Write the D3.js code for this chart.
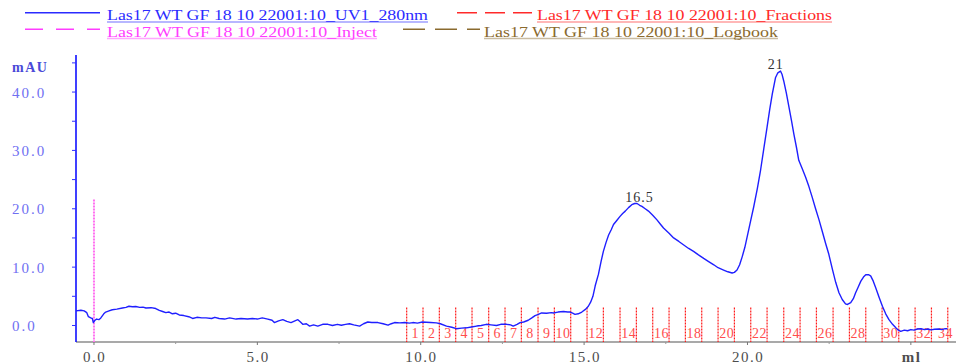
<!DOCTYPE html>
<html>
<head>
<meta charset="utf-8">
<script src="https://cdn.jsdelivr.net/npm/d3@7"></script>
<style>
  html, body { margin: 0; padding: 0; background: #fff; }
  svg { display: block; }
  text { font-family: "Liberation Serif", "DejaVu Serif", serif; }
</style>
</head>
<body>
<svg id="chart" width="959" height="364"></svg>
<script>
// ---- data ----
const uvVolume = [-0.55,-0.40,-0.30,-0.22,-0.17,-0.10,-0.05,-0.02,0.03,0.08,0.15,0.21,0.30,0.36,0.46,0.56,0.70,0.87,0.98,1.07,1.18,1.28,1.40,1.50,1.59,1.75,1.89,2.0,2.1,2.2,2.3,2.4,2.5,2.61,2.75,2.9,3.02,3.15,3.3,3.43,3.6,3.7,3.83,4.0,4.15,4.35,4.5,4.7,4.85,5.0,5.15,5.32,5.45,5.52,5.65,5.78,5.9,6.03,6.15,6.24,6.32,6.39,6.5,6.6,6.72,6.85,7.0,7.16,7.3,7.45,7.57,7.7,7.82,7.95,8.13,8.25,8.38,8.5,8.69,8.85,9.0,9.1,9.2,9.36,9.51,9.65,9.76,9.9,10.05,10.17,10.3,10.48,10.6,10.79,10.95,11.09,11.25,11.40,11.55,11.71,11.85,12.01,12.15,12.32,12.45,12.63,12.75,12.83,12.95,13.04,13.15,13.29,13.4,13.50,13.6,13.70,13.85,14.0,14.06,14.2,14.37,14.5,14.57,14.65,14.72,14.82,14.93,15.05,15.13,15.2,15.27,15.34,15.44,15.52,15.59,15.67,15.75,15.83,15.90,16.0,16.10,16.18,16.26,16.36,16.46,16.55,16.62,16.70,16.77,16.87,16.97,17.1,17.23,17.33,17.43,17.6,17.74,17.9,18.05,18.2,18.35,18.5,18.66,18.8,18.97,19.1,19.27,19.4,19.53,19.6,19.68,19.76,19.84,19.92,19.99,20.1,20.19,20.30,20.40,20.50,20.60,20.68,20.76,20.86,20.93,21.01,21.06,21.11,21.19,21.27,21.35,21.42,21.5,21.57,21.68,21.78,21.88,21.98,22.08,22.19,22.29,22.39,22.49,22.60,22.70,22.80,22.90,23.0,23.06,23.16,23.24,23.31,23.39,23.47,23.55,23.62,23.70,23.77,23.85,23.93,24.03,24.13,24.23,24.33,24.44,24.54,24.62,24.69,24.8,24.9,25.0,25.1,25.2,25.31,25.42,25.52,25.62,25.72,25.85,25.95,26.05,26.12];
const uvMAU = [2.5,2.6,2.5,2.2,1.5,1.3,1.2,0.5,0.9,1.1,1.0,1.3,2.0,2.3,2.5,2.7,2.8,3.0,3.1,3.3,3.2,3.25,3.1,3.15,3.0,3.05,2.9,2.6,2.4,2.2,2.3,2.0,2.1,1.8,1.7,1.5,1.2,1.4,1.3,1.3,1.2,1.4,1.2,1.1,1.3,1.1,1.2,1.1,1.2,1.1,1.3,1.1,0.9,0.5,0.8,1.0,0.7,0.5,0.8,1.0,0.6,0.2,0.3,-0.1,0.1,-0.1,0.2,0.2,0.0,0.2,0.05,0.2,0.3,0.1,-0.1,0.3,0.6,0.5,0.5,0.3,0.05,0.3,0.5,0.45,0.5,0.4,0.5,0.4,0.6,0.55,0.5,0.45,0.3,-0.1,-0.3,-0.55,-0.45,-0.4,-0.25,-0.1,0.0,0.2,0.1,0.0,0.2,0.2,0.1,-0.1,0.2,0.5,0.6,0.9,1.3,1.7,1.9,2.15,2.1,2.2,2.15,2.3,2.4,2.3,2.3,2.1,1.9,2.0,2.3,2.8,3.3,4.0,5.0,6.8,8.8,11.0,12.7,14.2,15.5,16.4,17.3,18.0,18.7,19.2,19.6,20.2,20.7,20.9,20.9,20.6,20.4,20.0,19.6,18.9,18.1,17.4,16.7,15.8,15.0,14.4,13.8,13.2,12.7,12.1,11.5,11.0,10.4,9.9,9.5,9.2,9.0,9.1,9.5,10.4,11.8,13.4,15.2,18.0,20.3,23.4,26.6,30.3,34.0,37.0,39.7,42.5,43.3,43.6,43.0,41.9,39.8,37.4,35.0,32.8,30.5,28.3,26.8,25.4,23.8,22.0,20.1,18.1,16.1,14.1,12.2,9.6,7.4,5.6,4.45,3.7,3.6,3.9,4.6,5.6,6.6,7.6,8.3,8.7,8.7,8.5,7.6,6.4,4.8,3.3,2.0,1.0,0.2,-0.4,-0.8,-1.0,-0.8,-0.9,-0.7,-0.8,-0.6,-0.55,-0.7,-0.6,-0.75,-0.65,-0.6,-0.7,-0.55,-0.55];

const fractionStarts = [9.57,10.07,10.57,11.07,11.57,12.08,12.58,13.08,13.59,14.09,14.59,15.09,15.59,16.1,16.6,17.1,17.6,18.1,18.6,19.1,19.6,20.1,20.6,21.11,21.61,22.11,22.62,23.12,23.62,24.12,24.63,25.13,25.63,26.13];
const fractionLabels = ["1","2","3","4","5","6","7","8","9","10","","12","","14","","16","","18","","20","","22","","24","","26","","28","","30","","32","","34"];
const fractionMarkTop = 3.1;   // mAU height of fraction marks

const injectVolume = 0.0;
const injectTop = 21.6;        // mAU height of inject mark

const peakLabels = ["16.5", "21"];
const peakLabelVolume = [16.68, 20.85];
const peakLabelMAU = [20.95, 43.8];

const xTickValues = [0, 5, 10, 15, 20, 25];
const xTickLabels = ["0.0", "5.0", "10.0", "15.0", "20.0", "ml"];
const xMinorTicks = [2.5, 7.5, 12.5, 17.5, 22.5];
const yTickValues = [0, 10, 20, 30, 40];
const yTickLabels = ["0.0", "10.0", "20.0", "30.0", "40.0"];
const yMinorTicks = [5, 15, 25, 35, 45];

const legendNames = ["Las17 WT GF 18 10 22001:10_UV1_280nm", "Las17 WT GF 18 10 22001:10_Fractions",
                     "Las17 WT GF 18 10 22001:10_Inject", "Las17 WT GF 18 10 22001:10_Logbook"];
const legendColors = ["#2b2bff", "#ff2a2a", "#ff3cff", "#8a6a2e"];

// ---- layout ----
const svg = d3.select("#chart");
svg.append("rect").attr("width", 959).attr("height", 364).attr("fill", "#fff");

const plotLeft = 76, plotRight = 953, plotTop = 55, plotBottom = 342;
const x = d3.scaleLinear().domain([-0.55, 26.29]).range([plotLeft, plotRight]);
const y = d3.scaleLinear().domain([-2.83, 46.35]).range([plotBottom, plotTop]);

// legend
const legendLayout = [
  {lx1: 25, lx2: 100, ly: 12.7, tx: 107, ty: 20, tw: 321, dash: null},
  {lx1: 457, lx2: 532, ly: 12.7, tx: 537, ty: 20, tw: 295, dash: "20,8"},
  {lx1: 25, lx2: 100, ly: 29.3, tx: 107, ty: 36.5, tw: 270, dash: "18,13"},
  {lx1: 403, lx2: 480, ly: 29.3, tx: 484, ty: 36.5, tw: 294, dash: "22,10"}
];
const lg = svg.append("g");
legendNames.forEach((name, i) => {
  const L = legendLayout[i];
  lg.append("line").attr("x1", L.lx1).attr("x2", L.lx2).attr("y1", L.ly).attr("y2", L.ly)
    .attr("stroke", legendColors[i]).attr("stroke-width", 1.6)
    .attr("stroke-dasharray", L.dash);
  lg.append("line").attr("x1", L.tx).attr("x2", L.tx + L.tw).attr("y1", L.ty + 2).attr("y2", L.ty + 2)
    .attr("stroke", legendColors[i]).attr("stroke-opacity", 0.45).attr("stroke-width", 1.6);
  lg.append("text").attr("x", L.tx).attr("y", L.ty)
    .attr("textLength", L.tw).attr("lengthAdjust", "spacingAndGlyphs")
    .attr("font-size", 14).attr("fill", legendColors[i]).text(name);
});

// x axis
svg.append("line").attr("x1", plotLeft).attr("x2", 956).attr("y1", plotBottom).attr("y2", plotBottom)
  .attr("stroke", "#8c8c8c").attr("stroke-width", 1.3);
const xAxisG = svg.append("g");
xAxisG.selectAll("line.maj").data(xTickValues).join("line")
  .attr("x1", d => x(d)).attr("x2", d => x(d)).attr("y1", plotBottom).attr("y2", plotBottom + 3)
  .attr("stroke", "#777");
xAxisG.selectAll("line.min").data(xMinorTicks).join("line")
  .attr("x1", d => x(d)).attr("x2", d => x(d)).attr("y1", plotBottom).attr("y2", plotBottom + 2)
  .attr("stroke", "#999");
xAxisG.selectAll("text").data(xTickValues).join("text")
  .attr("x", d => x(d) + 0.75).attr("y", 361.5).attr("text-anchor", "middle")
  .attr("font-size", 15).attr("letter-spacing", 1.5).attr("fill", "#4d4d4d")
  .attr("font-weight", (d, i) => xTickLabels[i] === "ml" ? "bold" : null)
  .text((d, i) => xTickLabels[i]);

// fraction marks
const fg = svg.append("g");
fg.selectAll("line").data(fractionStarts).join("line")
  .attr("x1", d => x(d)).attr("x2", d => x(d)).attr("y1", y(fractionMarkTop)).attr("y2", plotBottom)
  .attr("stroke", "#ff1a1a").attr("stroke-width", 1.2).attr("stroke-dasharray", "2,1");
fg.selectAll("text").data(fractionStarts).join("text")
  .attr("x", (d, i) => Math.min((x(d) + x(d + 0.5)) / 2, 945) + 0.5)
  .attr("y", 338).attr("text-anchor", "middle")
  .attr("font-size", 14).attr("letter-spacing", 0.5).attr("fill", "#ff4d4d")
  .text((d, i) => fractionLabels[i]);

// inject mark
svg.append("line").attr("x1", x(injectVolume)).attr("x2", x(injectVolume))
  .attr("y1", y(injectTop)).attr("y2", plotBottom)
  .attr("stroke", "#ff70f0").attr("stroke-width", 2).attr("stroke-dasharray", "2,1");

// y axis
svg.append("line").attr("x1", plotLeft).attr("x2", plotLeft).attr("y1", plotTop).attr("y2", plotBottom)
  .attr("stroke", "#1010ff").attr("stroke-width", 1.6);
const yAxisG = svg.append("g");
yAxisG.selectAll("line.maj").data(yTickValues.concat(yMinorTicks)).join("line")
  .attr("x1", plotLeft - 4).attr("x2", plotLeft).attr("y1", d => y(d)).attr("y2", d => y(d))
  .attr("stroke", "#3030ff").attr("stroke-width", 1);
yAxisG.selectAll("text").data(yTickValues).join("text")
  .attr("x", 12).attr("y", d => y(d) + 5.5)
  .attr("font-size", 15).attr("letter-spacing", 2).attr("fill", "#6f6ff2")
  .text((d, i) => yTickLabels[i]);
svg.append("text").attr("x", 12).attr("y", 72).attr("font-size", 14).attr("font-weight", "bold")
  .attr("letter-spacing", 1.5).attr("fill", "#4a4ad8").text("mAU");

// UV curve
const pts = uvVolume.map((v, i) => [v, uvMAU[i]]);
const line = d3.line().x(d => x(d[0])).y(d => y(d[1]));
svg.append("path").datum(pts).attr("d", line)
  .attr("fill", "none").attr("stroke", "#1f1fff").attr("stroke-width", 1.4)
  .attr("stroke-linejoin", "round");

// peak labels
svg.selectAll("text.peak").data(peakLabels).join("text").attr("class", "peak")
  .attr("x", (d, i) => x(peakLabelVolume[i]) + 0.5).attr("y", (d, i) => y(peakLabelMAU[i]) - 1)
  .attr("text-anchor", "middle").attr("font-size", 14).attr("letter-spacing", 1)
  .attr("fill", "#333").text(d => d);
</script>
</body>
</html>
